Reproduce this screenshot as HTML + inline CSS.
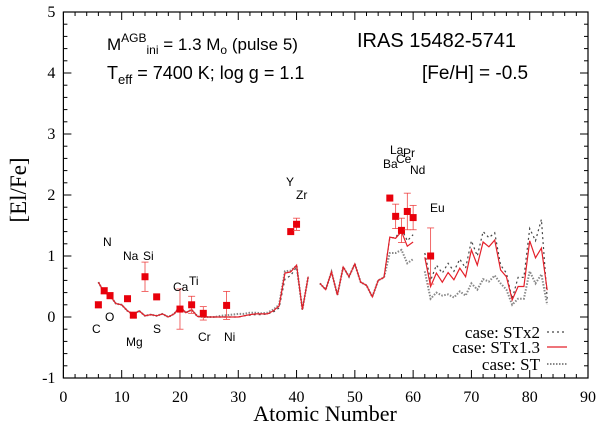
<!DOCTYPE html>
<html><head><meta charset="utf-8"><style>
body{margin:0;background:#fff}
svg{display:block}
.s{font-family:"Liberation Sans",sans-serif;fill:#000}
.r{font-family:"Liberation Serif",serif;fill:#000}
</style></head><body>
<svg id="c" width="600" height="432" viewBox="0 0 600 432"></svg>
<script>
const obsZ=[6,7,8,11,12,14,16,20,22,24,28,39,40,56,57,58,59,60,63];
const obsV=[0.2,0.43,0.35,0.3,0.03,0.66,0.33,0.13,0.2,0.06,0.19,1.4,1.52,1.95,1.65,1.42,1.73,1.63,1.0];
const obsErr=[0.05,0.05,0.05,0,0.04,0.24,0,0.33,0.14,0.11,0.23,0,0.1,0,0.2,0.2,0.3,0.2,0.46];
const modelZ=[6,7,8,9,10,11,12,13,14,15,16,17,18,19,20,21,22,23,24,25,26,27,28,29,30,31,32,33,34,35,36,37,38,39,40,41,42,null,44,45,46,47,48,49,50,51,52,53,54,55,56,57,58,59,60,null,62,63,64,65,66,67,68,69,70,71,72,73,74,75,76,77,78,79,80,81,82,83];
const st13=[0.57,0.4,0.35,0.22,0.2,0.1,0.04,0.1,0.02,0.04,0.02,0.05,0,0.05,0.17,0.07,0.12,0.01,0,0,0,0,0,0,0,0.02,0.04,0.05,0.05,0.05,0.1,0.18,0.72,0.74,0.85,0.12,0.66,null,0.55,0.45,0.74,0.36,0.82,0.66,0.87,0.57,0.52,0.33,0.6,0.65,1.31,1.29,1.4,1.16,1.23,null,0.98,0.5,0.72,0.57,0.73,0.61,0.8,0.66,1.1,0.85,1.23,1.15,1.26,0.77,0.66,0.28,0.5,0.5,1.25,0.97,1.13,0.44];
const stx2=[0.57,0.4,0.35,0.22,0.2,0.1,0.04,0.1,0.02,0.04,0.02,0.05,0,0.05,0.17,0.07,0.12,0.01,0,0,0,0,0,0,0,0.02,0.03,0.04,0.04,0.05,0.08,0.15,0.62,0.68,0.82,0.12,0.66,null,0.55,0.45,0.74,0.36,0.82,0.66,0.87,0.57,0.52,0.33,0.6,0.65,1.3,1.3,1.45,1.25,1.35,null,1.05,0.6,0.85,0.72,0.88,0.75,0.95,0.8,1.25,1.0,1.4,1.3,1.38,0.85,0.72,0.3,0.65,0.65,1.45,1.25,1.6,0.3];
const stBase=[0.57,0.4,0.35,0.22,0.2,0.1,0.04,0.1,0.02,0.04,0.02,0.05,0,0.05,0.17,0.07,0.12,0.01,0,0,0,0.02,0.03,0.04,0.05,0.05,0.07,0.07,0.06,0.07,0.12,0.2,0.75,0.76,0.84,0.12,0.66,null,0.55,0.45,0.74,0.36,0.82,0.66,0.87,0.57,0.52,0.33,0.6,0.65,1.05,1.05,1.1,0.88,0.95,null,0.75,0.3,0.4,0.35,0.37,0.32,0.42,0.35,0.55,0.45,0.62,0.58,0.68,0.55,0.45,0.2,0.3,0.3,0.75,0.55,0.7,0.2];
const xTicks=[0,10,20,30,40,50,60,70,80,90];
const yTicks=[-1,0,1,2,3,4,5];
const labels=[["N",103,246],["Na",123,260],["Si",143,260],["C",92,333],["O",105,321],["Mg",126,346],["S",153,333],["Ca",173,291],["Ti",189,285],["Cr",198,341],["Ni",224,341],["Y",286,186],["Zr",296,199],["Ba",383,168],["La",390,154],["Ce",396,163],["Pr",403,157],["Nd",410,174],["Eu",430,212]];

const NS="http://www.w3.org/2000/svg",svg=document.getElementById('c');
const X0=63.4,X1=588,Y0=378,Y1=12;
const xs=v=>X0+(v-0)/90*(X1-X0), ys=v=>Y0-(v+1)/6*(Y0-Y1);
function mk(t,a,p){const e=document.createElementNS(NS,t);for(const k in a)e.setAttribute(k,a[k]);(p||svg).appendChild(e);return e;}
const fr=mk('rect',{x:X0,y:Y1,width:X1-X0,height:Y0-Y1,fill:'none',stroke:'#000','stroke-width':1.2});


for(let v=0;v<=90;v+=2){const big=v%10==0;const x=xs(v);
 mk('line',{x1:x,x2:x,y1:Y0,y2:Y0-(big?8:4),stroke:'#000'});mk('line',{x1:x,x2:x,y1:Y1,y2:Y1+(big?8:4),stroke:'#000'});}
for(let i=0;i<=30;i++){const v=-1+i*0.2;const big=i%5==0;const y=ys(v);
 mk('line',{x1:X0,x2:X0+(big?8:4),y1:y,y2:y,stroke:'#000'});mk('line',{x1:X1,x2:X1-(big?8:4),y1:y,y2:y,stroke:'#000'});}
xTicks.forEach(v=>{const t=mk('text',{x:xs(v),y:Y0+24,'text-anchor':'middle','font-size':16,class:'r'});t.textContent=v;
 
 });
yTicks.forEach(v=>{const t=mk('text',{x:X0-8,y:ys(v)+5,'text-anchor':'end','font-size':16,class:'r'});t.textContent=v;
 
 });
const xt=mk('text',{x:325,y:421,'text-anchor':'middle','font-size':22,class:'r'});xt.textContent='Atomic Number';


const yt=mk('text',{x:0,y:0,'text-anchor':'middle','font-size':23,class:'r',transform:'translate(26,190) rotate(-90)'});yt.textContent='[El/Fe]';


function path(vals,style,name){let d='',pen=false;
 modelZ.forEach((z,i)=>{const v=vals[i];if(z==null||v==null){pen=false;return;}d+=(pen?'L':'M')+xs(z).toFixed(1)+','+ys(v).toFixed(1);pen=true;});
 const p=mk('path',Object.assign({d:d,fill:'none'},style));
 
 }
path(stBase,{stroke:'#888','stroke-width':2,'stroke-dasharray':'1.5,1.5'},'series-st');
path(stx2,{stroke:'#444','stroke-width':1.2,'stroke-dasharray':'2,3'},'series-stx2');
path(st13,{stroke:'#e4202a','stroke-width':1.2},'series-stx1-3');
obsZ.forEach((z,i)=>{const x=xs(z),y=ys(obsV[i]);
 if(obsErr[i]>0){const e=obsErr[i];
  mk('line',{x1:x,x2:x,y1:ys(obsV[i]-e),y2:ys(obsV[i]+e),stroke:'#e44','stroke-width':0.8});
  [obsV[i]-e,obsV[i]+e].forEach(w=>mk('line',{x1:x-3.5,x2:x+3.5,y1:ys(w),y2:ys(w),stroke:'#e44','stroke-width':0.8}));}
 const r=mk('rect',{x:x-3.5,y:y-3.5,width:7,height:7,fill:'#e8000b'});
 
 });
labels.forEach(l=>{const t=mk('text',{x:l[1],y:l[2],'font-size':12,class:'s'});t.textContent=l[0];
 
 });
</script>
<svg width="600" height="432" style="position:absolute;left:0;top:0">
<text class="s" x="107" y="50" font-size="17">M<tspan font-size="12" dy="-8">AGB</tspan><tspan font-size="12" dy="12">ini</tspan><tspan dy="-4"> = 1.3 M</tspan><tspan font-size="12" dy="4">o</tspan><tspan dy="-4"> (pulse 5)</tspan></text>
<text class="s" x="107" y="79" font-size="18">T<tspan font-size="13" dy="5">eff</tspan><tspan dy="-5"> = 7400 K; log g = 1.1</tspan></text>
<text class="s" x="357" y="47" font-size="20">IRAS 15482-5741</text>
<text class="s" x="422" y="79" font-size="19">[Fe/H] = -0.5</text>
<g>
<text class="r" x="540" y="338" font-size="17" text-anchor="end">case: STx2</text>
<line x1="547" x2="567" y1="332" y2="332" stroke="#444" stroke-width="1.2" stroke-dasharray="2,3"/>
<text class="r" x="540" y="353" font-size="17" text-anchor="end">case: STx1.3</text>
<line x1="547" x2="567" y1="347" y2="347" stroke="#e4202a" stroke-width="1.2"/>
<text class="r" x="540" y="370" font-size="17" text-anchor="end">case: ST</text>
<line x1="547" x2="567" y1="364" y2="364" stroke="#888" stroke-width="2" stroke-dasharray="1.5,1.5"/>
</g>
</svg>
</body></html>
